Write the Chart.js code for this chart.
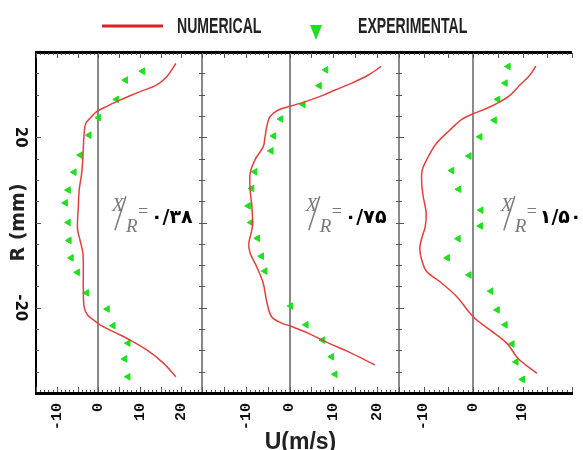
<!DOCTYPE html>
<html>
<head>
<meta charset="utf-8">
<script src="https://cdn.jsdelivr.net/npm/chart.js@4/dist/chart.umd.min.js"></script>
<style>
  html, body { margin: 0; padding: 0; background: #fff; width: 583px; height: 450px; overflow: hidden; }
  #wrap { width: 583px; height: 458px; }
</style>
</head>
<body>
<div id="wrap"><canvas id="chart" width="583" height="458"></canvas></div>
<script>
// axial velocity U (m/s) against radius R (mm), three stations X/R
const num1U = [18.7, 16.5, 14.1, 10.1, 5.2, 2.0, -0.4, -2.0, -3.0, -3.4, -3.7, -4.0, -4.6, -4.8, -5.0, -4.4, -3.7, -3.6, -3.6, -3.4, -2.6, -1.1, 0.4, 3.6, 7.7, 11.7, 15.7, 18.7];
const num1R = [37.3, 34.2, 32.3, 30.7, 28.7, 27.2, 26.0, 24.4, 23.3, 20.9, 15.4, 11.5, 7.6, 3.7, -1.5, -4.1, -7.2, -10.4, -15.8, -19.8, -21.7, -22.9, -24.0, -25.6, -27.6, -29.9, -33.0, -36.2];
const exp1U = [10.7, 6.6, 4.4, 0.1, -2.2, -4.3, -5.8, -7.2, -7.9, -7.2, -7.0, -6.5, -5.0, -2.8, 2.2, 3.6, 7.2, 6.4, 7.2];
const exp1R = [35.5, 33.4, 28.9, 24.6, 20.5, 15.8, 11.8, 7.6, 4.6, 0.0, -4.2, -8.3, -11.7, -16.5, -20.3, -24.2, -28.3, -32.0, -36.2];

const num2U = [20.9, 18.0, 14.2, 10.4, 7.3, 3.5, 0.5, -2.6, -4.5, -5.2, -5.6, -6.0, -7.9, -9.0, -9.0, -8.6, -8.5, -9.3, -9.0, -7.5, -6.0, -5.2, -4.1, -1.8, 0.5, 4.3, 8.9, 13.4, 19.5];
const num2R = [36.6, 34.6, 32.7, 31.1, 29.7, 28.3, 27.4, 26.4, 24.8, 22.5, 20.1, 17.8, 14.7, 11.5, 7.6, 3.7, -1.0, -4.9, -7.2, -10.4, -14.3, -18.6, -22.1, -23.6, -24.4, -26.0, -28.3, -30.3, -33.4];
const exp2U = [8.3, 6.8, 3.1, -2.0, -3.6, -4.2, -7.9, -8.6, -9.4, -8.8, -7.3, -6.4, -5.6, 0.3, 3.8, 7.6, 9.6, 10.4];
const exp2R = [35.8, 32.1, 27.7, 24.3, 20.3, 16.8, 11.9, 8.0, 3.9, 0.0, -3.7, -7.9, -11.4, -19.6, -24.0, -27.6, -31.5, -35.6];

const num3U = [12.7, 11.5, 9.5, 7.5, 5.4, 2.8, 0.0, -2.3, -4.7, -7.4, -9.1, -10.3, -10.4, -10.1, -9.5, -9.7, -10.4, -10.8, -10.4, -9.4, -6.7, -3.3, 0.0, 3.4, 6.8, 9.1, 12.9];
const num3R = [36.7, 34.6, 32.3, 29.9, 28.3, 26.8, 25.5, 24.2, 21.7, 18.6, 15.4, 12.3, 9.2, 6.1, 2.2, -1.0, -3.7, -6.1, -8.8, -11.5, -13.9, -17.4, -22.1, -25.2, -28.3, -31.9, -35.4];
const exp3U = [7.1, 6.5, 5.0, 4.3, 1.4, -0.8, -4.3, -2.9, 1.6, 1.5, -3.0, -5.2, -0.8, 3.6, 4.9, 6.5, 7.9, 8.7, 10.0];
const exp3R = [36.6, 32.7, 28.9, 24.0, 20.1, 15.6, 12.2, 7.8, 2.9, -0.8, -3.8, -8.3, -12.3, -16.1, -20.5, -24.0, -28.5, -32.7, -36.8];

const xTickLabels1 = [-10, 0, 10, 20];
const xTickLabels2 = [-10, 0, 10, 20];
const xTickLabels3 = [-10, 0, 10];
const yTickLabels = [20, -20];

const stationLabels = ['۰/۳۸', '۰/۷۵', '۱/۵۰'];
const noteU = [3.3, 3.7, 5.6];
const noteR = 2.4;

const pts = (u, r) => u.map((v, i) => ({ x: v, y: r[i] }));

function numSet(u, r, axis) {
  return {
    label: 'NUMERICAL', data: pts(u, r), xAxisID: axis, yAxisID: 'y',
    showLine: true, borderColor: '#e2403f', borderWidth: 1.5, pointRadius: 0, tension: 0.35
  };
}
function expSet(u, r, axis) {
  return {
    label: 'EXPERIMENTAL', data: pts(u, r), xAxisID: axis, yAxisID: 'y',
    showLine: false, pointStyle: 'triangle', pointRotation: 270, pointRadius: 3.8,
    backgroundColor: '#1ee01e', borderColor: '#1ee01e', borderWidth: 1
  };
}

// one x scale per panel, stacked side by side along the bottom
function panelAxis(min, max, weight, labels, sep, title) {
  const mark = c => c.tick && (c.tick.value === 0 || (sep && c.tick.value === min));
  return {
    type: 'linear', axis: 'x', position: 'bottom', stack: 'u', stackWeight: weight,
    min: min, max: max,
    afterFit: s => { s.height = 65; s.paddingLeft = 0; s.paddingRight = 0; },
    ticks: {
      stepSize: 5, autoSkip: false, minRotation: 90, maxRotation: 90, padding: 10,
      callback: v => labels.includes(v) ? String(v) : '',
      font: { family: "'Liberation Mono', 'DejaVu Sans Mono', monospace", weight: 'bold', size: 15 },
      color: '#111'
    },
    grid: {
      drawTicks: false,
      color: c => mark(c) ? '#8a8a8a' : 'rgba(0,0,0,0)',
      lineWidth: c => mark(c) ? 2 : 0
    },
    border: { color: '#000', width: 3 },
    title: {
      display: !!title, text: title || '', color: '#222',
      font: { family: "'Liberation Sans', Arial, sans-serif", weight: 'bold', size: 23 },
      padding: { top: 0, bottom: 2 }
    }
  };
}

const frameTicks = {
  id: 'frameTicks',
  afterDraw(chart) {
    const { ctx, chartArea: a, scales } = chart;
    const y = scales.y;
    ctx.save();
    ctx.strokeStyle = '#555';
    ctx.lineWidth = 1;
    ['x1', 'x2', 'x3'].forEach((id, i) => {
      const s = scales[id];
      ctx.beginPath();
      for (let v = Math.ceil(s.min); v <= s.max; v++) {
        const px = Math.round(s.getPixelForValue(v)) + 0.5;
        const len = v % 5 === 0 ? 5 : 2;
        ctx.moveTo(px, a.bottom - 1); ctx.lineTo(px, a.bottom - 1 - len);
        ctx.moveTo(px, a.top + 1); ctx.lineTo(px, a.top + 1 + len);
      }
      for (let r = y.min + 5; r < y.max; r += 5) {
        const py = Math.round(y.getPixelForValue(r)) + 0.5;
        const len = r % 20 === 0 ? 5 : 3;
        ctx.moveTo(s.left, py); ctx.lineTo(s.left + len, py);
        if (i > 0) { ctx.moveTo(s.left, py); ctx.lineTo(s.left - 3, py); }
      }
      ctx.stroke();
    });
    ctx.restore();
  }
};

const stationNotes = {
  id: 'stationNotes',
  afterDatasetsDraw(chart) {
    const { ctx, scales } = chart;
    ['x1', 'x2', 'x3'].forEach((id, i) => {
      const ax = scales[id].getPixelForValue(noteU[i]);
      const ay = scales.y.getPixelForValue(noteR);
      ctx.save();
      ctx.fillStyle = '#7a7a7a';
      ctx.strokeStyle = '#7a7a7a';
      ctx.textAlign = 'left';
      ctx.textBaseline = 'alphabetic';
      ctx.font = "italic 19px 'Liberation Serif', serif";
      ctx.fillText('X', ax, ay - 1);
      ctx.fillText('R', ax + 14, ay + 20);
      ctx.lineWidth = 1.5;
      ctx.beginPath();
      ctx.moveTo(ax + 3, ay + 18);
      ctx.lineTo(ax + 14, ay - 16);
      ctx.stroke();
      ctx.font = "18px 'Liberation Serif', serif";
      ctx.textBaseline = 'middle';
      ctx.fillText('=', ax + 26, ay);
      ctx.fillStyle = '#000';
      ctx.font = "bold 19px 'DejaVu Sans', sans-serif";
      ctx.fillText(stationLabels[i], ax + 39, ay + 6);
      ctx.restore();
    });
  }
};

const topLegend = {
  id: 'topLegend',
  afterDraw(chart) {
    const { ctx } = chart;
    const sets = chart.data.datasets;
    ctx.save();
    ctx.strokeStyle = '#d42424';
    ctx.lineWidth = 3;
    ctx.beginPath();
    ctx.moveTo(102, 26); ctx.lineTo(163, 26);
    ctx.stroke();
    ctx.fillStyle = '#1ee01e';
    ctx.beginPath();
    ctx.moveTo(310, 25); ctx.lineTo(322, 25); ctx.lineTo(316, 40);
    ctx.closePath();
    ctx.fill();
    ctx.fillStyle = '#222';
    ctx.font = "bold 22px 'Liberation Sans', Arial, sans-serif";
    ctx.textBaseline = 'middle';
    [[sets[0].label, 177], [sets[1].label, 358]].forEach(([txt, x]) => {
      ctx.save();
      ctx.translate(x, 27);
      ctx.scale(0.64, 1);
      ctx.fillText(txt, 0, 0);
      ctx.restore();
    });
    ctx.restore();
  }
};

new Chart(document.getElementById('chart'), {
  type: 'scatter',
  data: {
    datasets: [
      numSet(num1U, num1R, 'x1'), expSet(exp1U, exp1R, 'x1'),
      numSet(num2U, num2R, 'x2'), expSet(exp2U, exp2R, 'x2'),
      numSet(num3U, num3R, 'x3'), expSet(exp3U, exp3R, 'x3')
    ]
  },
  options: {
    responsive: false,
    animation: false,
    events: [],
    layout: { padding: { top: 52, right: 11, bottom: 0, left: 0 } },
    plugins: { legend: { display: false }, tooltip: { enabled: false } },
    scales: {
      x1: panelAxis(-15, 25, 166, xTickLabels1, false),
      x2: panelAxis(-20, 25, 197, xTickLabels2, true, 'U(m/s)'),
      x3: panelAxis(-15, 20, 173, xTickLabels3, true),
      y: {
        type: 'linear', position: 'left', min: -40, max: 40,
        afterFit: s => { s.width = 36; s.paddingTop = 0; s.paddingBottom = 0; },
        ticks: {
          stepSize: 5, autoSkip: false, minRotation: -90, maxRotation: -90,
          crossAlign: 'center', padding: 3,
          callback: v => yTickLabels.includes(v) ? String(v) : '',
          font: { family: "'DejaVu Sans', sans-serif", weight: 'bold', size: 15 },
          color: '#111'
        },
        grid: {
          drawTicks: false,
          color: c => c.tick && c.tick.value === 40 ? '#000' : 'rgba(0,0,0,0)',
          lineWidth: c => c.tick && c.tick.value === 40 ? 3 : 0
        },
        border: { color: '#000', width: 2 },
        title: {
          display: true, text: 'R (mm)', color: '#222',
          font: { family: "'DejaVu Sans', sans-serif", weight: 'bold', size: 19 },
          padding: { top: 8, bottom: 0 }
        }
      }
    }
  },
  plugins: [frameTicks, stationNotes, topLegend]
});
</script>
</body>
</html>
